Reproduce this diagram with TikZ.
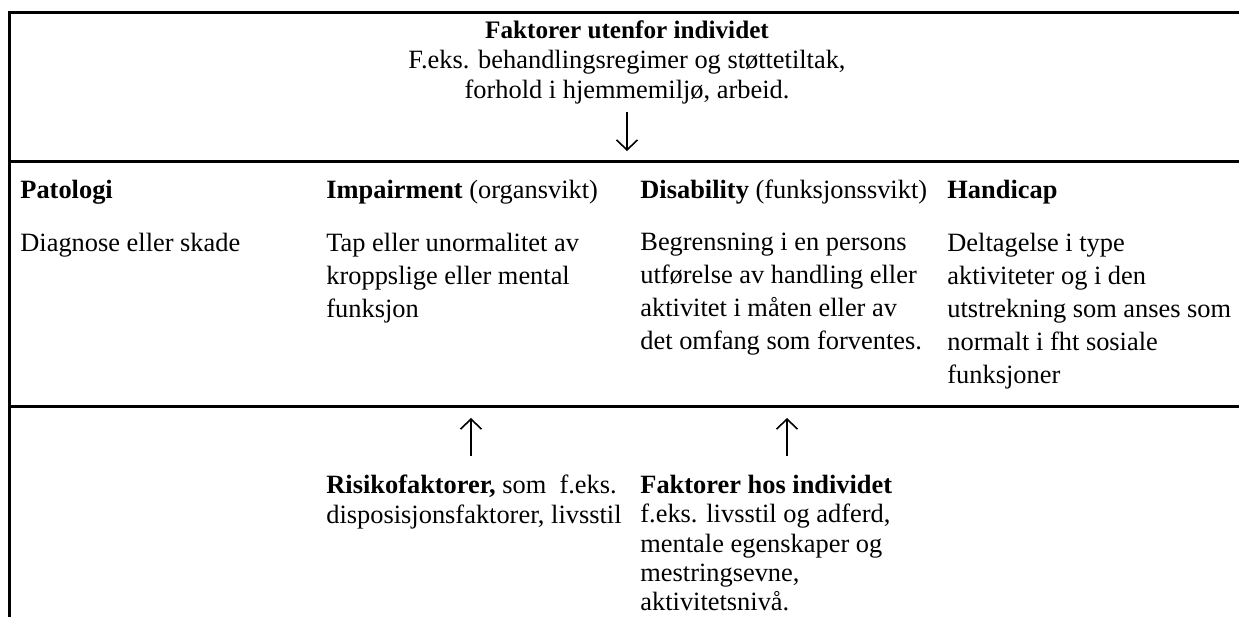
\documentclass[tikz,border=0pt]{standalone}
\usepackage{fontspec}
\setmainfont{Liberation Serif}
\usetikzlibrary{arrows.meta}

\newcommand{\bodyfont}{\fontsize{13.2}{16.5}\selectfont}
\newcommand{\headfont}{\fontsize{13.2}{15}\selectfont}
\newcommand{\lowfont}{\fontsize{13.2}{14.6}\selectfont}

\tikzset{
  rule/.style={line width=1.5pt},
  flow/.style={line width=0.8pt, -{Straight Barb[length=5pt,width=10.5pt]}},
  txt/.style={anchor=north west, inner sep=0pt, align=left, font=\bodyfont},
  low/.style={txt, font=\lowfont},
}

\begin{document}
\begin{tikzpicture}[x=0.5pt,y=-0.5pt]
        \useasboundingbox (0,0) rectangle (1239,617);

        % Frame lines
        \draw [rule] (1239,12) -- (9,12) -- (9,617);%
        \draw [rule] (9,161) -- (1239,161);%
        \draw [rule] (9,406) -- (1239,406);%

        % Factors outside the individual
        \node (ytre) [txt, font=\headfont, anchor=north, align=center] at (627,20)
          {\textbf{\fontsize{12.6}{15}\selectfont Faktorer utenfor individet}\\
           F.eks. behandlingsregimer og støttetiltak,\\
           forhold i hjemmemiljø, arbeid.};%
        \coordinate (ytreA) at (627,112);%
        \coordinate (ytreB) at (627,151);%
        \draw [flow] (ytreA) -- (ytreB);%

        % Column headings
        \node (pat) [txt] at (20,180) {\textbf{Patologi}};%
        \node (imp) [txt] at (326,180) {\textbf{Impairment} (organsvikt)};%
        \node (dis) [txt] at (640,180) {\textbf{Disability} (funksjonssvikt)};%
        \node (hand) [txt] at (947,180) {\textbf{Handicap}};%

        % Column texts
        \node (patT) [txt] at (20,233) {Diagnose eller skade};%
        \node (impT) [txt] at (326,233)
          {Tap eller unormalitet av\\ kroppslige eller mental\\ funksjon};%
        \node (disT) [txt] at (640,233)
          {Begrensning i en persons\\ utførelse av handling eller\\
           aktivitet i måten eller av\\ det omfang som forventes.};%
        \node (handT) [txt] at (947,233)
          {Deltagelse i type\\ aktiviteter og i den\\
           utstrekning som anses som\\ normalt i fht sosiale\\ funksjoner};%

        % Risk factors
        \node (risk) [low] at (326,475)
          {\textbf{Risikofaktorer,} som\ \ f.eks.\\
           disposisjonsfaktorer, livsstil};%
        \coordinate (riskA) at (471,456);%
        \coordinate (riskB) at (471,418);%
        \draw [flow] (riskA) -- (riskB);%

        % Factors in the individual
        \node (indre) [low] at (640,475)
          {\textbf{Faktorer hos individet}\\ f.eks. livsstil og adferd,\\
           mentale egenskaper og\\ mestringsevne,\\ aktivitetsnivå.};%
        \coordinate (indreA) at (787,456);%
        \coordinate (indreB) at (787,418);%
        \draw [flow] (indreA) -- (indreB);%
\end{tikzpicture}
\end{document}
